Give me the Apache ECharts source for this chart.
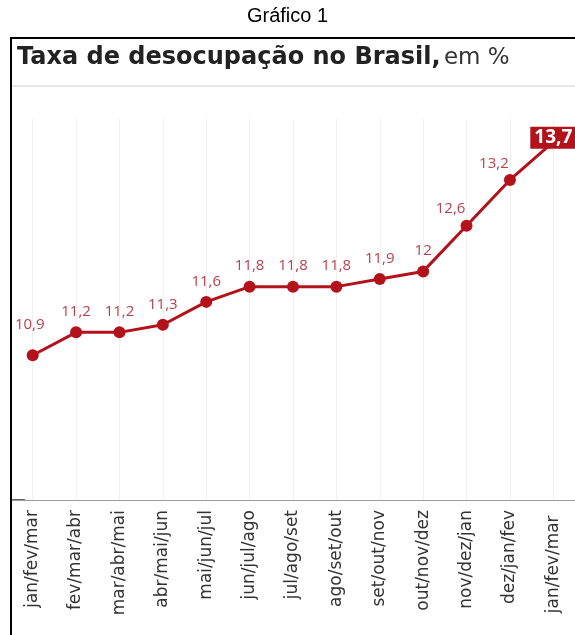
<!DOCTYPE html>
<html><head><meta charset="utf-8">
<script src="https://cdn.jsdelivr.net/npm/echarts@6/dist/echarts.min.js"></script>
<style>html,body{margin:0;padding:0;background:#fff}#c{width:575px;height:635px}</style>
</head><body><div id="c"></div>
<script>
const categories = ['jan/fev/mar','fev/mar/abr','mar/abr/mai','abr/mai/jun','mai/jun/jul','jun/jul/ago','jul/ago/set','ago/set/out','set/out/nov','out/nov/dez','nov/dez/jan','dez/jan/fev','jan/fev/mar '];
const values = [10.9, 11.2, 11.2, 11.3, 11.6, 11.8, 11.8, 11.8, 11.9, 12, 12.6, 13.2, 13.7];
const valueLabels = ['10,9','11,2','11,2','11,3','11,6','11,8','11,8','11,8','11,9','12','12,6','13,2','13,7'];

const lineColor = '#b3121b';
const labelColor = '#b8404a';
const fontFam = '"Open Sans", sans-serif';

const data = values.map((v, i) => {
  const d = { value: v, label: { formatter: valueLabels[i] } };
  if (i === 0) d.label.offset = [-3, -10];
  if (i === 10 || i === 11) d.label.offset = [-16, 4];
  if (i === values.length - 1) {
    d.symbolSize = 0;
    d.label = {
      formatter: valueLabels[i], position: 'inside', offset: [0, -4],
      color: '#fff', fontWeight: 'bold', fontSize: 19, backgroundColor: lineColor,
      padding: [2, 4, 1, 4], fontFamily: fontFam
    };
  }
  return d;
});

const chart = echarts.init(document.getElementById('c'));
chart.setOption({
  animation: false,
  backgroundColor: '#fff',
  grid: { left: 11, top: 119, width: 568, height: 381, containLabel: false },
  xAxis: {
    type: 'category', data: categories, boundaryGap: true,
    axisLine: { lineStyle: { color: '#9a9a9a', width: 1 } },
    axisTick: { show: false },
    axisLabel: { rotate: 90, margin: 10, color: '#333', fontSize: 17, fontFamily: '"DejaVu Sans", sans-serif', interval: 0 }
  },
  yAxis: { type: 'value', min: 9, max: 14, show: false },
  series: [{
    type: 'line', data: data,
    lineStyle: { color: lineColor, width: 3 },
    itemStyle: { color: lineColor },
    symbol: 'circle', symbolSize: 12,
    label: { show: true, position: 'top', distance: 7, color: labelColor, fontSize: 15, fontFamily: fontFam },
    markLine: {
      silent: true, symbol: 'none', label: { show: false },
      lineStyle: { color: '#f0f0f0', type: 'solid', width: 1 },
      data: categories.map((c, i) => ({ xAxis: i })),
      z: 0
    }
  }],
  graphic: [
    { type: 'text', left: 'center', top: 6, style: { text: 'Gráfico 1', fontSize: 20, fontFamily: 'Liberation Sans, Arial, sans-serif', fill: '#000' } },
    { type: 'rect', shape: { x: 11, y: 38, width: 640, height: 640 }, style: { fill: 'none', stroke: '#000', lineWidth: 2 }, z: 10 },
    { type: 'line', shape: { x1: 12, y1: 86, x2: 575, y2: 86 }, style: { stroke: '#e6e6e6', lineWidth: 2 } },
    { type: 'line', shape: { x1: 12, y1: 500, x2: 25, y2: 500 }, style: { stroke: '#333', lineWidth: 1.5 } },
    { type: 'text', left: 17, top: 46, style: {
      text: '{b|Taxa de desocupação no Brasil,} {n|em %}',
      rich: {
        b: { fontSize: 24, fontWeight: 'bold', fontFamily: '"DejaVu Sans", sans-serif', fill: '#222' },
        n: { fontSize: 23, fontFamily: '"DejaVu Sans", sans-serif', fill: '#333' }
      }
    } }
  ]
});
</script></body></html>
